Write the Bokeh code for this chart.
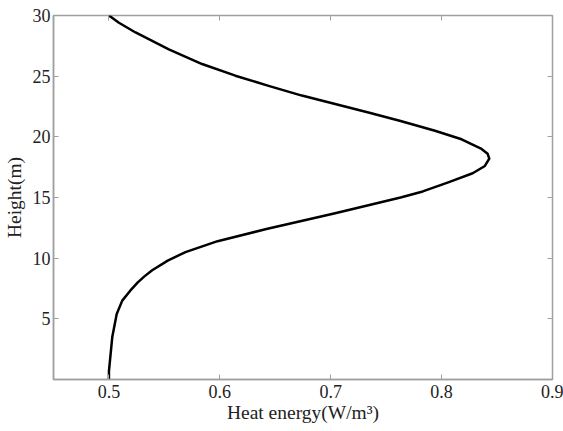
from bokeh.plotting import figure
from bokeh.models import LinearAxis, FixedTicker, Range1d
from bokeh.embed import file_html
from bokeh.resources import INLINE

# Data (height in m, heat energy in W/m^3)
height = [0, 0.7, 3.5, 5.4, 6.5, 7.3, 8.0, 8.5, 9.0, 9.8, 10.5, 11.4, 12.4,
          13.7, 15.0, 15.5, 16.25, 17.0, 17.6, 18.2, 18.6, 19.0, 19.8, 20.5,
          21.3, 22.0, 22.7, 23.4, 24.2, 25.04, 26.0, 27.2, 28.6, 29.4, 30]
heat = [0.500, 0.500, 0.503, 0.507, 0.512, 0.519, 0.526, 0.532, 0.539, 0.553,
        0.569, 0.598, 0.642, 0.704, 0.763, 0.783, 0.806, 0.828, 0.839, 0.843,
        0.8415, 0.836, 0.818, 0.794, 0.763, 0.734, 0.704, 0.674, 0.644, 0.614,
        0.584, 0.554, 0.524, 0.509, 0.500]

x_ticks = [0.5, 0.6, 0.7, 0.8, 0.9]
y_ticks = [5, 10, 15, 20, 25, 30]
x_label = "Heat energy(W/m³)"
y_label = "Height(m)"

FONT = "Liberation Serif"
AXIS_GRAY = "#a0a0a0"
TEXT = "#222222"

p = figure(width=563, height=431, output_backend="svg", toolbar_location=None,
           x_range=Range1d(0.45, 0.9), y_range=Range1d(0, 30),
           min_border_left=51, min_border_right=11, min_border_top=15,
           min_border_bottom=52)
p.grid.visible = False
p.outline_line_color = AXIS_GRAY
p.outline_line_width = 1.5

p.line(heat, height, line_color="black", line_width=2.5, line_join="round")

for ax, ticks in ((p.xaxis[0], x_ticks), (p.yaxis[0], y_ticks)):
    ax.ticker = FixedTicker(ticks=ticks)
    ax.axis_line_color = AXIS_GRAY
    ax.axis_line_width = 1.5
    ax.major_tick_line_color = AXIS_GRAY
    ax.major_tick_in = 5
    ax.major_tick_out = 0
    ax.minor_tick_line_color = None
    ax.major_label_text_font = FONT
    ax.major_label_text_font_size = "18px"
    ax.major_label_text_color = TEXT
    ax.axis_label_text_font = FONT
    ax.axis_label_text_font_size = "19.5px"
    ax.axis_label_text_font_style = "normal"
    ax.axis_label_text_color = TEXT

p.xaxis[0].axis_label = x_label
p.yaxis[0].axis_label = y_label
p.xaxis[0].major_label_standoff = 5
p.xaxis[0].axis_label_standoff = 1
p.yaxis[0].major_label_standoff = 3
p.yaxis[0].axis_label_standoff = 5

# mirrored ticks on top and right (no labels)
for loc, ticks in (("above", x_ticks), ("right", y_ticks)):
    a = LinearAxis(ticker=FixedTicker(ticks=ticks))
    a.axis_line_color = None
    a.major_tick_line_color = AXIS_GRAY
    a.major_tick_in = 5
    a.major_tick_out = 0
    a.minor_tick_line_color = None
    a.major_label_overrides = {t: "" for t in ticks}
    a.major_label_standoff = 0
    p.add_layout(a, loc)

open("out.html", "w").write(file_html(p, INLINE))
